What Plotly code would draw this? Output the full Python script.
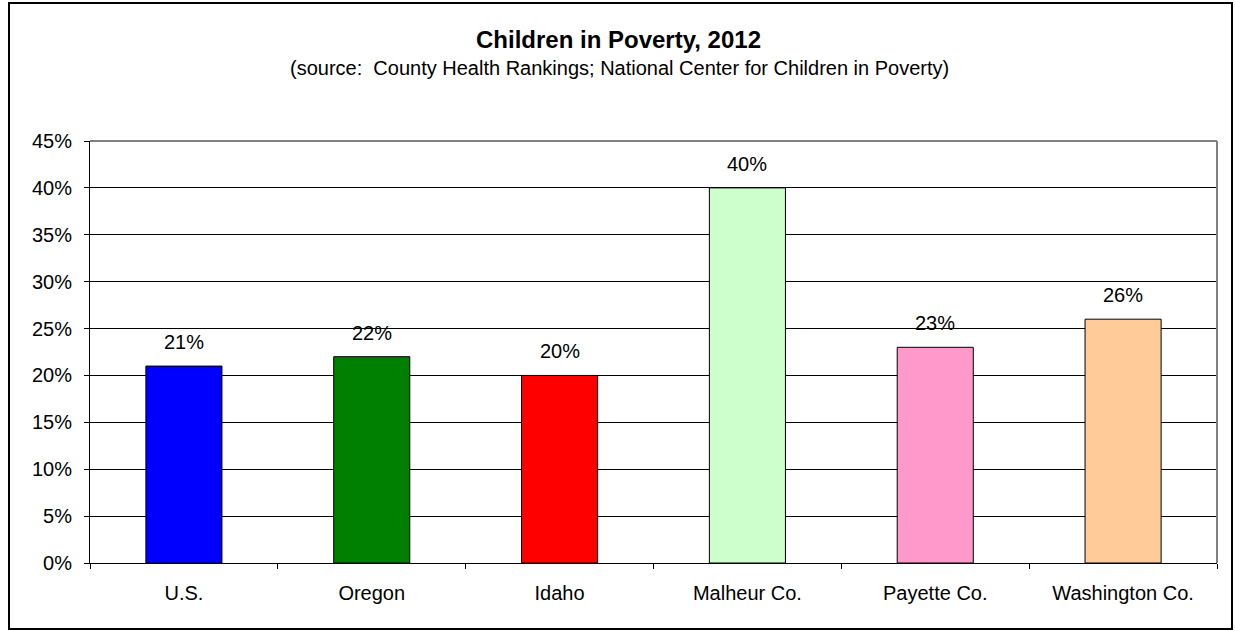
import plotly.graph_objects as go

categories = ["U.S.", "Oregon", "Idaho", "Malheur Co.", "Payette Co.", "Washington Co."]
poverty_pct = [21, 22, 20, 40, 23, 26]
bar_colors = ["#0000FF", "#008000", "#FF0000", "#CCFFCC", "#FF99CC", "#FFCC99"]
y_ticks = [0, 5, 10, 15, 20, 25, 30, 35, 40, 45]
y_tick_labels = [f"{v}%" for v in y_ticks]

W, H = 1235, 631
L, R, T, B = 90, 18, 141, 68
pw, ph = W - L - R, H - T - B


def px_x(p):
    return (p - L) / pw


def px_y(p):
    return (H - B - p) / ph


font = "Liberation Sans, Arial, sans-serif"

fig = go.Figure()
fig.add_trace(go.Bar(
    x=categories,
    y=poverty_pct,
    marker=dict(color=bar_colors, line=dict(color="black", width=1)),
    width=0.405,
    hoverinfo="x+y",
))

annotations = [
    dict(x=c, y=v, xref="x", yref="y", text=f"{v}%", showarrow=False,
         yanchor="middle", yshift=24, font=dict(family=font, size=20, color="black"))
    for c, v in zip(categories, poverty_pct)
]
annotations += [
    dict(x=px_x(618), y=px_y(39), xref="paper", yref="paper", xanchor="center", yanchor="middle",
         text="<b>Children in Poverty, 2012</b>", showarrow=False,
         font=dict(family=font, size=24, color="black")),
    dict(x=px_x(619), y=px_y(68), xref="paper", yref="paper", xanchor="center", yanchor="middle",
         text="(source:  County Health Rankings; National Center for Children in Poverty)",
         showarrow=False, font=dict(family=font, size=20, color="black")),
]

shapes = [
    # outer chart frame
    dict(type="rect", xref="paper", yref="paper",
         x0=px_x(9), x1=px_x(1232), y0=px_y(629), y1=px_y(3),
         line=dict(color="black", width=2), layer="below"),
    # grey plot-area border on top and right
    dict(type="line", xref="paper", yref="paper", x0=0, x1=1, y0=1, y1=1,
         line=dict(color="#808080", width=2)),
    dict(type="line", xref="paper", yref="paper", x0=1, x1=1, y0=0, y1=1,
         line=dict(color="#808080", width=2)),
]

fig.update_layout(
    width=W, height=H,
    margin=dict(l=L, r=R, t=T, b=B, pad=0),
    paper_bgcolor="white", plot_bgcolor="white",
    showlegend=False,
    font=dict(family=font, size=20, color="black"),
    annotations=annotations,
    shapes=shapes,
    bargap=0.6,
    xaxis=dict(
        type="category",
        showline=True, linecolor="black", linewidth=1,
        ticks="outside", tickson="boundaries", ticklen=5, tickcolor="black",
        showgrid=False,
        tickfont=dict(family=font, size=20, color="black"),
        ticklabelstandoff=12,
        range=[-0.5, len(categories) - 0.5],
    ),
    yaxis=dict(
        range=[0, 45],
        tickvals=y_ticks, ticktext=y_tick_labels,
        showline=True, linecolor="black", linewidth=1,
        ticks="outside", ticklen=5, tickcolor="black",
        showgrid=True, gridcolor="black", gridwidth=1,
        zeroline=False,
        tickfont=dict(family=font, size=20, color="black"),
        ticklabelstandoff=8,
    ),
)

fig.write_html("out.html")
